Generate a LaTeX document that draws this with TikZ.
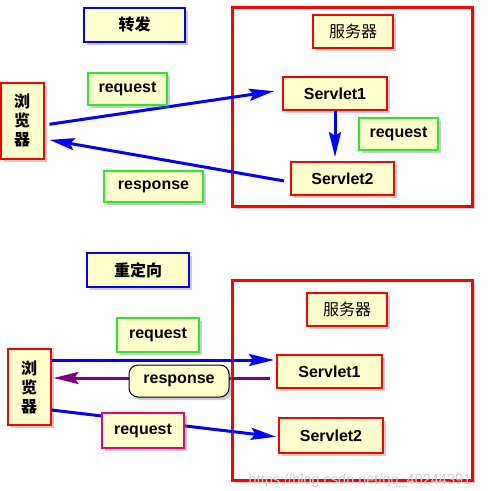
\documentclass[tikz,border=0pt]{standalone}
\usepackage{fontspec}
\setmainfont{Liberation Sans}
\newfontfamily\cjk{Noto Sans CJK SC}
\usetikzlibrary{arrows.meta, shadows}
\definecolor{paleyellow}{HTML}{FFFFCC}
\definecolor{lightgreen}{HTML}{22EE22}
\definecolor{hotpink}{HTML}{EE0077}
\definecolor{darkpurple}{HTML}{800080}

\begin{document}
\begin{tikzpicture}[x=1pt,y=-1pt,
	box/.style={draw=red,fill=paleyellow,line width=2pt,inner sep=0pt,
		font=\bfseries\fontsize{16}{19}\selectfont,
		drop shadow={opacity=0.4,shadow xshift=3pt,shadow yshift=-3pt}},
	cjkbox/.style={box,font=\cjk\bfseries\fontsize{16}{19}\selectfont},
	browser/.style={cjkbox,align=center,minimum width=43pt,minimum height=76pt},
	title/.style={cjkbox,draw=blue},
	label/.style={box,draw=lightgreen,line width=1.5pt},
	server/.style={draw=red,fill=white,line width=3pt,
		drop shadow={opacity=0.4,shadow xshift=3pt,shadow yshift=-3pt}},
	flow/.style={line width=3pt,-{Stealth[length=25pt,width=12pt,inset=4pt]}}]
	\useasboundingbox (0,0) rectangle (494,490);
	% forward
	\node[server,minimum width=240pt,minimum height=199pt] (srv_f) at (352,106.5) {};
	\node[title,minimum width=101pt,minimum height=34pt] (forward) at (134.5,24.5) {转发};
	\node[cjkbox,font=\cjk\fontsize{16}{19}\selectfont,minimum width=80pt,minimum height=33pt] (host_f) at (353,31.5) {服务器};
	\node[box,minimum width=104pt,minimum height=33pt] (s1_f) at (335,93.5) {Servlet1};
	\node[box,minimum width=103pt,minimum height=33pt] (s2_f) at (342.5,178.5) {Servlet2};
	\node[browser] (br_f) at (22,120.5) {浏\\览\\器};
	\draw[flow,blue,shorten <=5pt,shorten >=8pt] ([yshift=-4.5pt]br_f.east) -- ([yshift=3.5pt]s1_f.west);
	\draw[flow,blue,shorten <=6pt,shorten >=5pt] ([yshift=-3.5pt]s2_f.west) -- ([yshift=-18.5pt]br_f.east);
	\draw[flow,blue,shorten >=4pt] (s1_f.south) -- (s1_f.south |- s2_f.north);
	\node[label,minimum width=79pt,minimum height=32pt] (req_f) at (127.5,89) {request};
	\node[label,minimum width=99pt,minimum height=31pt] (resp_f) at (153.5,186.5) {response};
	\node[label,minimum width=79pt,minimum height=32pt] (fwd_req) at (398.5,134) {request};
	% redirect
	\node[server,minimum width=240pt,minimum height=200pt] (srv_r) at (352,380) {};
	\node[title,minimum width=102pt,minimum height=34pt] (redirect) at (138,270) {重定向};
	\node[cjkbox,font=\cjk\fontsize{16}{19}\selectfont,minimum width=80pt,minimum height=33pt] (host_r) at (347,309.5) {服务器};
	\node[box,minimum width=105pt,minimum height=33pt] (s1_r) at (329.5,371.5) {Servlet1};
	\node[box,minimum width=104pt,minimum height=35pt] (s2_r) at (331,435.5) {Servlet2};
	\node[browser] (br_r) at (29,387) {浏\\览\\器};
	\draw[flow,blue,shorten >=2pt] ([yshift=27pt]br_r.east) -- ([yshift=27pt]br_r.east -| s1_r.west);
	\draw[flow,darkpurple,shorten <=6pt,shorten >=2pt] ([yshift=-6.5pt]s1_r.west) -- ([yshift=-6.5pt]s1_r.west -| br_r.east);
	\draw[flow,blue,shorten >=2pt] ([yshift=-23pt]br_r.east) -- ([yshift=-1.5pt]s2_r.west);
	\node[label,minimum width=82pt,minimum height=34pt] (req_r) at (158,335) {request};
	\node[box,draw=black,line width=1pt,rounded corners=9pt,minimum width=100pt,minimum height=32pt] (resp_r) at (179,381) {response};
	\node[label,draw=hotpink,minimum width=82pt,minimum height=35pt] (req_r2) at (143,430.5) {request};
	\node[text=gray!35,font=\fontsize{14.5}{15}\selectfont] (mark) at (360,481) {https://blog.csdn.net/qq\_40244391};
\end{tikzpicture}
\end{document}
